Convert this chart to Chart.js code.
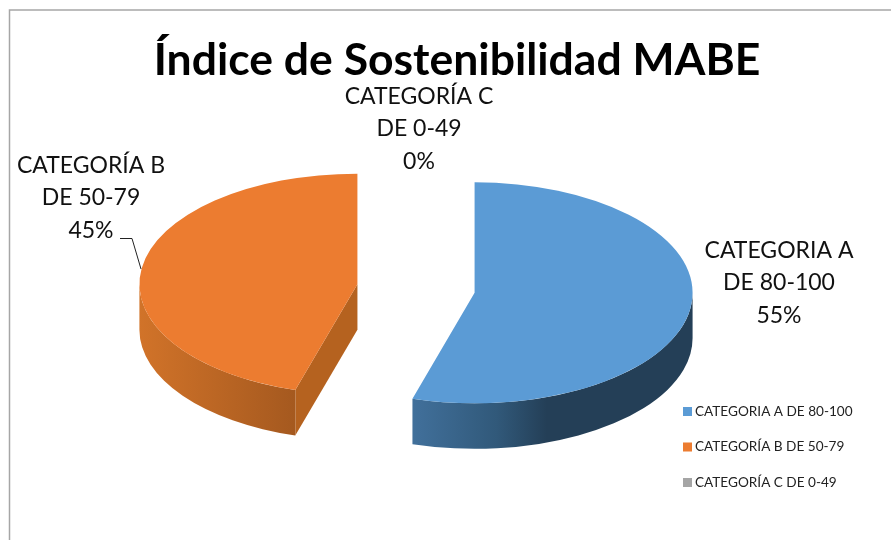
<!DOCTYPE html>
<html>
<head>
<meta charset="utf-8">
<style>
  html, body { margin: 0; padding: 0; background: #fff; overflow: hidden; }
  canvas { display: block; }
</style>
<script src="https://cdn.jsdelivr.net/npm/chart.js@4"></script>
</head>
<body>
<canvas id="chart" width="891" height="540"></canvas>
<script>
const chartTitle = 'Índice de Sostenibilidad MABE';
const categories = ['CATEGORIA A DE 80-100', 'CATEGORÍA B DE 50-79', 'CATEGORÍA C DE 0-49'];
const labelNames = ['CATEGORIA A', 'CATEGORÍA B', 'CATEGORÍA C'];
const labelRanges = ['DE 80-100', 'DE 50-79', 'DE 0-49'];
const values = [54.6, 45.4, 0];
const colors = ['#5b9bd5', '#ec7c30', '#a5a5a5'];

const FONT = 'Lato, "Open Sans", sans-serif';
const SQUASH = 0.507;    // altura/anchura de la elipse
const DEPTH = 45.5;      // grosor del pastel 3D
const EXPLODE = 59.2;    // separación de las porciones
const CENTER_Y = 288.5;

// gradientes de las paredes laterales
const wallStops = [
    [[0, '#41709b'], [0.3, '#31597a'], [0.48, '#243f57'], [1, '#243f57']],
    [[0, '#d17329'], [1, '#a5591f']],
    [[0, '#7c7c7c'], [1, '#7c7c7c']]
];
const cutColor = '#b5621f';
const labelCenters = [[779, 260], [91, 175], [419, 106]];

// centro de cada porción ya en pantalla, con su separación
function sliceGeometry(arc) {
    const p = arc.getProps(['x', 'y', 'startAngle', 'endAngle', 'outerRadius']);
    const mid = (p.startAngle + p.endAngle) / 2;
    return {
        dx: Math.cos(mid) * EXPLODE,
        dy: Math.sin(mid) * EXPLODE * SQUASH,
        cx: p.x + Math.cos(mid) * EXPLODE,
        cy: CENTER_Y + Math.sin(mid) * EXPLODE * SQUASH,
        r: p.outerRadius,
        start: p.startAngle,
        end: p.endAngle
    };
}

function drawWall(ctx, g, stops) {
    const from = Math.max(g.start, 0);
    const to = Math.min(g.end, Math.PI);
    if (to <= from) return;
    const x0 = g.cx + Math.cos(to) * g.r;
    const x1 = g.cx + Math.cos(from) * g.r;
    const fill = ctx.createLinearGradient(x0, 0, x1, 0);
    stops.forEach(s => fill.addColorStop(s[0], s[1]));
    ctx.fillStyle = fill;
    ctx.beginPath();
    ctx.ellipse(g.cx, g.cy, g.r, g.r * SQUASH, 0, from, to);
    ctx.ellipse(g.cx, g.cy + DEPTH, g.r, g.r * SQUASH, 0, to, from, true);
    ctx.closePath();
    ctx.fill();
}

// cara del corte que se ve de frente (solo la porción naranja)
function drawCut(ctx, g) {
    const ex = g.cx + Math.cos(g.start) * g.r;
    const ey = g.cy + Math.sin(g.start) * g.r * SQUASH;
    ctx.fillStyle = cutColor;
    ctx.beginPath();
    ctx.moveTo(g.cx, g.cy);
    ctx.lineTo(ex, ey);
    ctx.lineTo(ex, ey + DEPTH);
    ctx.lineTo(g.cx, g.cy + DEPTH);
    ctx.closePath();
    ctx.fill();
}

const pie3d = {
    id: 'pie3d',
    // los arcos se dibujan aquí abajo, con su separación y aplastados
    beforeDatasetDraw() {
        return false;
    },
    beforeDatasetsDraw(chart) {
        const ctx = chart.ctx;
        const arcs = chart.getDatasetMeta(0).data;
        ctx.save();
        // marco
        ctx.strokeStyle = '#a6a6a6';
        ctx.lineWidth = 1.5;
        ctx.beginPath();
        ctx.moveTo(9.5, 540);
        ctx.lineTo(9.5, 10);
        ctx.lineTo(891, 10);
        ctx.stroke();

        const orange = sliceGeometry(arcs[1]);
        drawCut(ctx, orange);
        drawWall(ctx, orange, wallStops[1]);
        drawWall(ctx, sliceGeometry(arcs[0]), wallStops[0]);
        ctx.restore();

        arcs.forEach(arc => {
            const g = sliceGeometry(arc);
            ctx.save();
            ctx.translate(g.dx, CENTER_Y + g.dy);
            ctx.scale(1, SQUASH);
            ctx.translate(0, -arc.y);
            arc.draw(ctx);
            ctx.restore();
        });
    },
    afterDatasetsDraw(chart) {
        const ctx = chart.ctx;
        ctx.save();

        ctx.fillStyle = '#000';
        ctx.textAlign = 'center';
        ctx.textBaseline = 'middle';
        ctx.font = 'bold 44.5px ' + FONT;
        ctx.fillText(chartTitle, 457, 61);

        // etiquetas de datos
        ctx.font = '23px ' + FONT;
        ctx.fillStyle = '#111';
        values.forEach((v, i) => {
            const [x, y] = labelCenters[i];
            ctx.fillText(labelNames[i], x, y - 9);
            ctx.fillText(labelRanges[i], x, y + 23);
            ctx.fillText(Math.round(v) + '%', x, y + 56);
        });

        // línea guía de la etiqueta 45%
        ctx.strokeStyle = '#222';
        ctx.lineWidth = 1;
        ctx.beginPath();
        ctx.moveTo(120, 238.5);
        ctx.lineTo(132, 238.5);
        ctx.lineTo(141, 269);
        ctx.stroke();

        // leyenda
        ctx.textAlign = 'left';
        ctx.font = '13.6px ' + FONT;
        categories.forEach((name, i) => {
            const y = 411.5 + i * 35.5;
            ctx.fillStyle = colors[i];
            ctx.fillRect(683, y - 4.5, 9, 9);
            ctx.fillStyle = '#222';
            ctx.fillText(name, 695, y);
        });
        ctx.restore();
    }
};

new Chart(document.getElementById('chart').getContext('2d'), {
    type: 'pie',
    data: {
        labels: categories,
        datasets: [{
            data: values,
            backgroundColor: colors,
            borderWidth: 0
        }]
    },
    options: {
        responsive: false,
        animation: false,
        radius: 218,
        layout: { padding: { top: 38, right: 59 } },
        plugins: {
            legend: { display: false },
            title: { display: false },
            tooltip: { enabled: false }
        }
    },
    plugins: [pie3d]
});
</script>
</body>
</html>
